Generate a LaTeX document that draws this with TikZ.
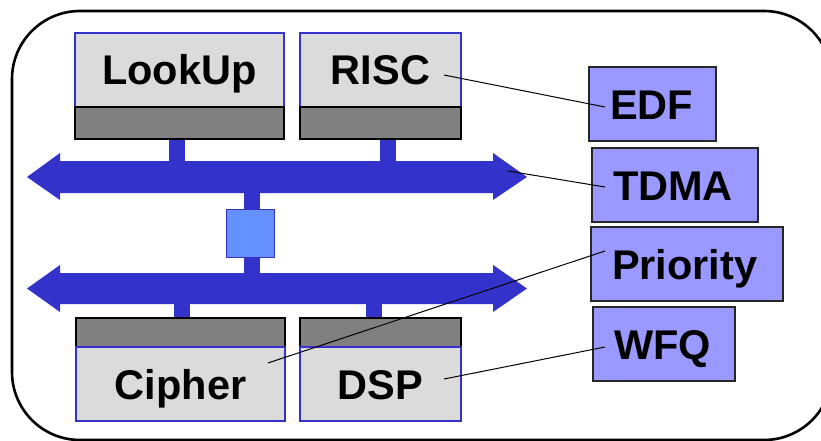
\documentclass[tikz,border=0pt]{standalone}
\usepackage{fontspec}
\setmainfont{Liberation Sans}
\definecolor{busblue}{RGB}{51,51,204}
\definecolor{sqfill}{RGB}{100,145,255}
\definecolor{lgray}{RGB}{219,219,219}
\definecolor{dgray}{RGB}{128,128,128}
\definecolor{polfill}{RGB}{153,153,255}
\tikzset{
  lbl/.style={font=\fontsize{41.5}{45}\selectfont\bfseries, text height=30pt, text depth=0pt},
  comptop/.style={draw=busblue, line width=1.6pt, fill=lgray, minimum width=209pt, minimum height=74pt, inner sep=0pt, lbl},
  compsub/.style={draw=black, line width=2pt, fill=dgray, minimum width=209pt, inner sep=0pt},
  policy/.style={draw=black!85, line width=2.2pt, fill=polfill, minimum height=74pt, inner xsep=21pt, inner ysep=0pt, align=left, anchor=north west, lbl},
  stub/.style={fill=busblue},
  lead/.style={draw=black, line width=1pt},
}
\begin{document}
\begin{tikzpicture}[x=1pt,y=-1pt]
\useasboundingbox (0,0) rectangle (821,441);
\clip (0,0) rectangle (821,441);
% outer frame
\draw[line width=2.6pt, rounded corners=68pt] (12,11) rectangle (832,440);
% stubs
\fill[stub] (169,138) rectangle (185,162);
\fill[stub] (380,138) rectangle (396,162);
\fill[stub] (244,192) rectangle (260,210);
\fill[stub] (244,257) rectangle (260,274);
\fill[stub] (174,303) rectangle (190,319);
\fill[stub] (366,303) rectangle (382,319);
% buses
\fill[busblue] (27,177) -- (60,153) -- (60,161) -- (493,161) -- (493,153) -- (527,177) -- (493,200) -- (493,193) -- (60,193) -- (60,200) -- cycle;
\fill[busblue] (27,288.5) -- (60,265) -- (60,273) -- (493,273) -- (493,265) -- (527,288.5) -- (493,312) -- (493,304) -- (60,304) -- (60,312) -- cycle;
% bridge
\node[draw=busblue, line width=1.8pt, fill=sqfill, minimum size=48pt, inner sep=0pt] (bridge) at (250.5,233.5) {};
% components top
\node[comptop] (lookup) at (179.5,70) {LookUp};
\node[compsub, minimum height=32pt] (lookupb) at (179.5,123) {};
\node[comptop, minimum width=161pt] (risc) at (380.5,70) {RISC};
\node[compsub, minimum width=161pt, minimum height=32pt] (riscb) at (380.5,123) {};
% components bottom
\node[compsub, minimum height=29pt] (cipherb) at (180.5,332.5) {};
\node[comptop] (cipher) at (180.5,384) {Cipher};
\node[compsub, minimum width=161pt, minimum height=29pt] (dspb) at (380.5,332.5) {};
\node[comptop, minimum width=161pt] (dsp) at (380.5,384) {DSP};
% policies
\node[policy, text width=85pt] (edf) at (588,66) {EDF};
\node[policy, text width=124pt] (tdma) at (591,147) {TDMA};
\node[policy, text width=150pt] (prio) at (590,226) {Priority};
\node[policy, text width=100pt] (wfq) at (592,306) {WFQ};
% leader ends
\coordinate (eRISC) at (444,75);
\coordinate (eBus) at (508,171);
\coordinate (eCipher) at (268,363);
\coordinate (eDSP) at (444,379);
\coordinate (pEDF) at (605,107);
\coordinate (pTDMA) at (605,187);
\coordinate (pPrio) at (605,251);
\coordinate (pWFQ) at (605,347);
\draw[lead] (eRISC) -- (pEDF);
\draw[lead] (eBus) -- (pTDMA);
\draw[lead] (eCipher) -- (pPrio);
\draw[lead] (eDSP) -- (pWFQ);
\end{tikzpicture}
\end{document}
